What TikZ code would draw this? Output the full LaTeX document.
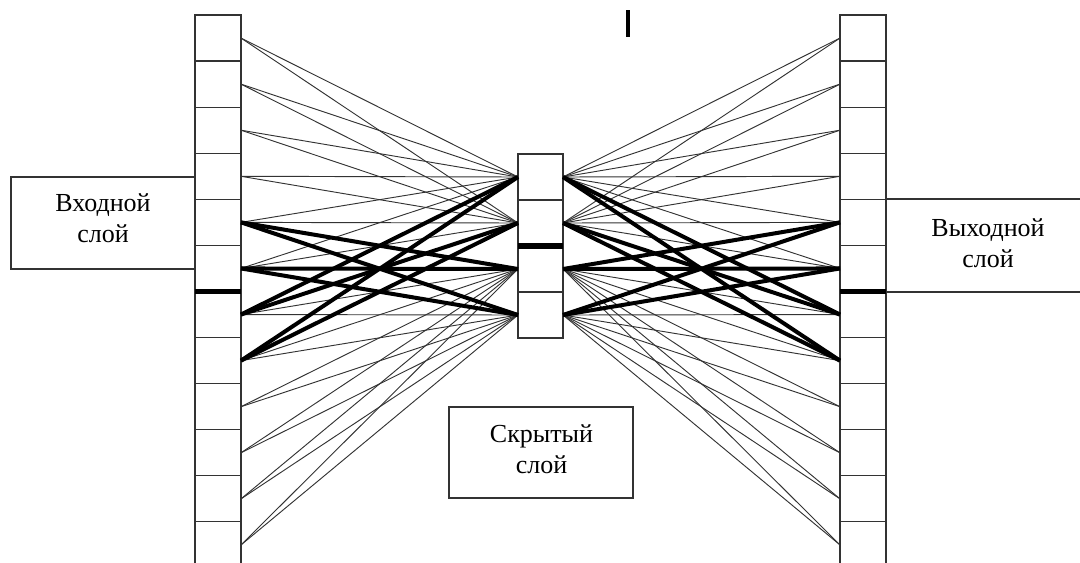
\documentclass[tikz,border=0pt]{standalone}
\usepackage{fontspec}
\setmainfont{Liberation Serif}
\begin{document}
\begin{tikzpicture}[x=0.75pt,y=-0.75pt,
  cell/.style={draw=black!80, line width=0.9pt, minimum width=34.5pt, minimum height=34.56pt, inner sep=0pt, outer sep=0pt},
  hcell/.style={draw=black!80, line width=0.9pt, minimum width=33.75pt, minimum height=34.5pt, inner sep=0pt, outer sep=0pt},
  lbox/.style={draw=black!80, line width=1pt, inner sep=0pt, outer sep=0pt},
  lbl/.style={align=center, font=\fontsize{19.5}{23.5}\selectfont, inner sep=0pt},
  wire/.style={draw=black!80, line width=0.7pt},
  bold/.style={draw=black, line width=3pt},
  sep/.style={draw=black, line width=4pt}]
\useasboundingbox (0,0) rectangle (1080,562);
\clip (0,0) rectangle (1080,562);
% columns
\foreach \i in {1,...,12} {
  \node[cell] (in\i) at (218,{15+46.08*(\i-0.5)}) {};
  \node[cell] (out\i) at (863,{15+46.08*(\i-0.5)}) {};
}
\foreach \j in {1,...,4} {
  \node[hcell] (h\j) at (540.5,{154+46*(\j-0.5)}) {};
}
% label boxes
\node[lbox, minimum width=138pt, minimum height=69pt] (inbox) at (103,223) {};
\node[lbox, minimum width=153pt, minimum height=69.75pt] (outbox) at (988,245.5) {};
\node[lbox, minimum width=138pt, minimum height=68.25pt] (hbox) at (541,452.5) {};
\node[lbl] (intext) at (103,218) {Входной\\слой};
\node[lbl] (outtext) at (988,243) {Выходной\\слой};
\node[lbl] (htext) at (541.5,449) {Скрытый\\слой};
% thick separators
\draw[sep] (in6.south west) -- (in6.south east);
\draw[sep] (out6.south west) -- (out6.south east);
\draw[sep] (h2.south west) -- (h2.south east);
% thin connections
\foreach \i in {1,...,4} \foreach \j in {1,2} {
  \draw[wire] (in\i.east) -- (h\j.west);
  \draw[wire] (out\i.west) -- (h\j.east);
}
\foreach \i in {9,...,12} \foreach \j in {3,4} {
  \draw[wire] (in\i.east) -- (h\j.west);
  \draw[wire] (out\i.west) -- (h\j.east);
}
\foreach \i/\j in {5/1,5/2,6/2,7/4,8/3,8/4,6/1,7/3} {
  \draw[wire] (in\i.east) -- (h\j.west);
  \draw[wire] (out\i.west) -- (h\j.east);
}
\foreach \i/\j in {5/3,5/4,6/3,6/4,7/1,7/2,8/1,8/2} {
  \draw[bold] (in\i.east) -- (h\j.west);
  \draw[bold] (out\i.west) -- (h\j.east);
}
% small mark at top
\draw[line width=2.4pt] (628,10) -- (628,37);
\end{tikzpicture}
\end{document}
